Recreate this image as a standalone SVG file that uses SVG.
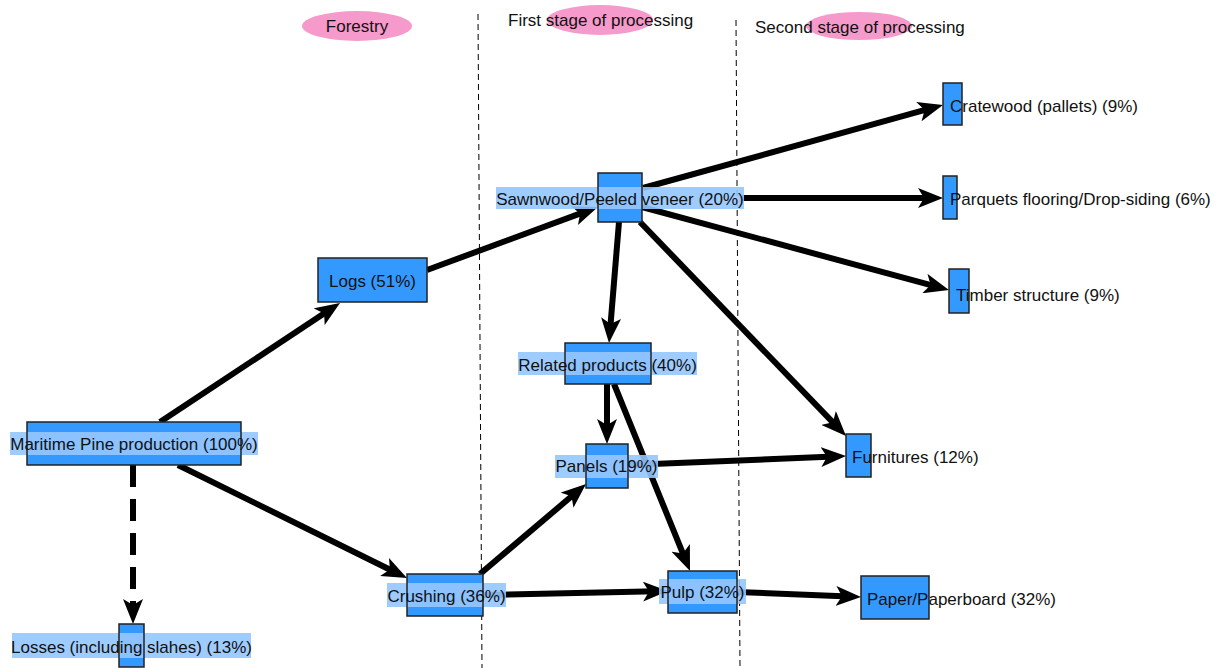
<svg xmlns="http://www.w3.org/2000/svg" width="1220" height="668" viewBox="0 0 1220 668">
<style>
text{font-family:"Liberation Sans",Arial,sans-serif;font-size:17px;fill:#111}
.box{fill:#3399ff;stroke:none}
.bord{fill:none;stroke:#222;stroke-width:1.5}
.hl{fill:rgb(149,199,255);opacity:0.9}
.e{fill:none;stroke:#000;stroke-width:6;marker-end:url(#arr)}
.sep{stroke:#000;stroke-width:1;stroke-dasharray:6 4;fill:none}
.ph{fill:#f59acb}
.m{text-anchor:middle}
</style>
<defs>
<marker id="arr" viewBox="0 0 25 20" refX="13" refY="10" markerWidth="25" markerHeight="20" markerUnits="userSpaceOnUse" orient="auto">
<path d="M0,0 L25,10 L0,20 L6,10 z" fill="#000"/>
</marker>
</defs>
<rect width="1220" height="668" fill="#fff"/>
<g id="header">
<line class="sep" x1="478" y1="14" x2="482" y2="668"/>
<line class="sep" x1="736" y1="20" x2="740" y2="668"/>
<ellipse class="ph" cx="357" cy="26" rx="55" ry="15"/>
<text class="m" x="357" y="32">Forestry</text>
<ellipse class="ph" cx="600" cy="20" rx="53" ry="15"/>
<text x="508" y="26">First stage of processing</text>
<ellipse class="ph" cx="859" cy="26" rx="53" ry="14"/>
<text x="755" y="33">Second stage of processing</text>
</g>
<g id="connectors">
<line class="e" x1="160" y1="422" x2="330" y2="309.6"/>
<line class="e" x1="427" y1="270" x2="586.7" y2="211.1"/>
<line class="e" x1="178" y1="465" x2="396.2" y2="572.7"/>
<line class="e" x1="133" y1="465" x2="133" y2="612" stroke-dasharray="22 12"/>
<line class="e" x1="643" y1="188" x2="931.4" y2="108.2"/>
<line class="e" x1="742" y1="198" x2="931" y2="198"/>
<line class="e" x1="642" y1="207" x2="937.4" y2="286.9"/>
<line class="e" x1="619" y1="222" x2="610" y2="331"/>
<line class="e" x1="640" y1="222" x2="837.7" y2="427.4"/>
<line class="e" x1="607" y1="384" x2="607" y2="432"/>
<line class="e" x1="614" y1="384" x2="685.5" y2="559.9"/>
<line class="e" x1="628" y1="465" x2="834" y2="456.5"/>
<line class="e" x1="480" y1="574" x2="576.9" y2="491.8"/>
<line class="e" x1="483" y1="595" x2="656" y2="591.3"/>
<line class="e" x1="737" y1="592" x2="849" y2="596.5"/>
</g>
<g id="maritime">
<rect class="box" x="27" y="422" width="214" height="43"/>
<rect class="hl" x="10" y="432" width="248" height="23"/>
<rect class="bord" x="27" y="422" width="214" height="43"/>
<text class="m" x="134" y="450">Maritime Pine production (100%)</text>
</g>
<g id="logs">
<rect class="box" x="318" y="258" width="109" height="44"/>
<rect class="bord" x="318" y="258" width="109" height="44"/>
<text class="m" x="372.5" y="287">Logs (51%)</text>
</g>
<g id="sawnwood">
<rect class="box" x="598" y="173" width="44" height="49"/>
<rect class="hl" x="496" y="187" width="248" height="22"/>
<rect class="bord" x="598" y="173" width="44" height="49"/>
<text class="m" x="620" y="205">Sawnwood/Peeled veneer (20%)</text>
</g>
<g id="related">
<rect class="box" x="565" y="343" width="86" height="41"/>
<rect class="hl" x="518" y="352" width="179" height="23"/>
<rect class="bord" x="565" y="343" width="86" height="41"/>
<text class="m" x="607.5" y="371">Related products (40%)</text>
</g>
<g id="panels">
<rect class="box" x="586" y="444" width="42" height="44"/>
<rect class="hl" x="555" y="455" width="103" height="23"/>
<rect class="bord" x="586" y="444" width="42" height="44"/>
<text class="m" x="606.5" y="472">Panels (19%)</text>
</g>
<g id="crushing">
<rect class="box" x="407" y="574" width="76" height="42"/>
<rect class="hl" x="387" y="583" width="119" height="24"/>
<rect class="bord" x="407" y="574" width="76" height="42"/>
<text class="m" x="446.5" y="602">Crushing (36%)</text>
</g>
<g id="pulp">
<rect class="box" x="668" y="571" width="69" height="42"/>
<rect class="hl" x="659" y="579" width="87" height="25"/>
<rect class="bord" x="668" y="571" width="69" height="42"/>
<text class="m" x="702.5" y="598">Pulp (32%)</text>
</g>
<g id="losses">
<rect class="box" x="119" y="624" width="25" height="43"/>
<rect class="hl" x="12" y="633" width="239" height="25"/>
<rect class="bord" x="119" y="624" width="25" height="43"/>
<text class="m" x="131.5" y="653">Losses (including slahes) (13%)</text>
</g>
<g id="cratewood">
<rect class="box" x="943" y="83" width="19" height="42"/>
<rect class="bord" x="943" y="83" width="19" height="42"/>
<text x="950" y="112">Cratewood (pallets) (9%)</text>
</g>
<g id="parquets">
<rect class="box" x="943" y="176" width="14" height="43"/>
<rect class="bord" x="943" y="176" width="14" height="43"/>
<text x="950" y="205">Parquets flooring/Drop-siding (6%)</text>
</g>
<g id="timber">
<rect class="box" x="949" y="269" width="20" height="44"/>
<rect class="bord" x="949" y="269" width="20" height="44"/>
<text x="956" y="301">Timber structure (9%)</text>
</g>
<g id="furnitures">
<rect class="box" x="846" y="434" width="25" height="43"/>
<rect class="bord" x="846" y="434" width="25" height="43"/>
<text x="852" y="463">Furnitures (12%)</text>
</g>
<g id="paper">
<rect class="box" x="861" y="576" width="68" height="43"/>
<rect class="bord" x="861" y="576" width="68" height="43"/>
<text x="867" y="605">Paper/Paperboard (32%)</text>
</g>
</svg>
